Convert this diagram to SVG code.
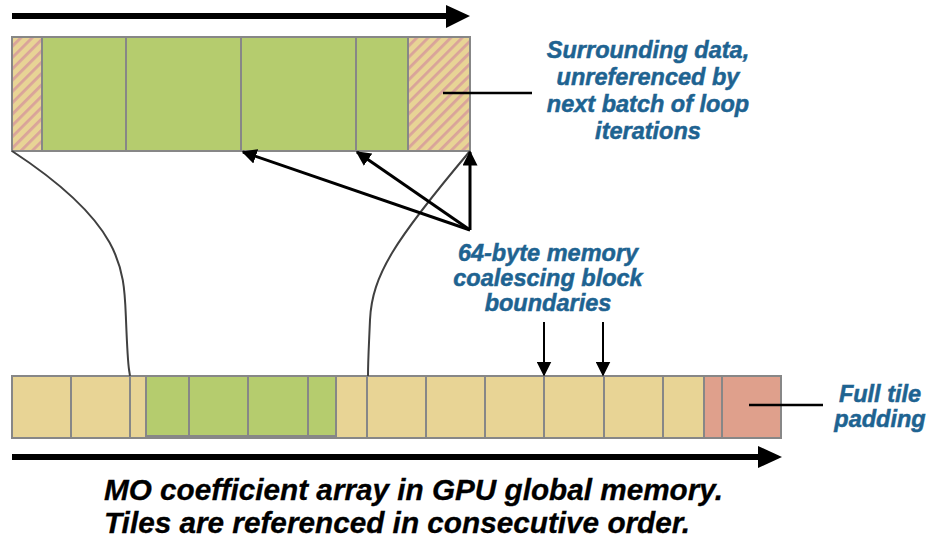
<svg xmlns="http://www.w3.org/2000/svg" width="928" height="542" viewBox="0 0 928 542">
<defs>
<pattern id="hatch" patternUnits="userSpaceOnUse" width="8" height="8" patternTransform="rotate(45)">
<rect width="8" height="8" fill="#e8d495"/>
<rect x="0" y="0" width="2.8" height="8" fill="#d9a39a"/>
</pattern>
<marker id="ah" viewBox="0 0 10 10" refX="9" refY="5" markerWidth="5" markerHeight="5" orient="auto" markerUnits="strokeWidth">
<path d="M0,0 L10,5 L0,10 Z" fill="#000"/>
</marker>
<marker id="ahs" viewBox="0 0 10 10" refX="9" refY="5" markerWidth="7.5" markerHeight="7.5" orient="auto" markerUnits="strokeWidth">
<path d="M0,0 L10,5 L0,10 Z" fill="#000"/>
</marker>
</defs>
<style>
.cell{stroke:#878787;stroke-width:2}
.tan{fill:#e8d495}
.grn{fill:#b5cc6e}
.pnk{fill:#dfa08c}
.hat{fill:url(#hatch)}
.lbl{font-family:"Liberation Sans",Arial,sans-serif;font-weight:bold;font-style:italic;font-size:23.5px;fill:#1e6391;stroke:#1e6391;stroke-width:0.5;text-anchor:middle}
.cap{font-family:"Liberation Sans Narrow","Liberation Sans",Arial,sans-serif;font-weight:bold;font-style:italic;font-size:29px;fill:#000;stroke:#000;stroke-width:0.3}
.lead{stroke:#000;stroke-width:2.5;fill:none}
.curve{stroke:#404040;stroke-width:2;fill:none}
.ptr{stroke:#000;stroke-width:3;fill:none;marker-end:url(#ah)}
.big{stroke:#000;stroke-width:6;fill:none}
</style>

<g id="top-arrow">
<line class="big" x1="12" y1="16" x2="448" y2="16"/>
<polygon points="446,5 470,16 446,28" fill="#000"/>
</g>

<g id="top-bar">
<rect class="cell hat" x="12" y="37" width="30" height="114"/>
<rect class="cell grn" x="42" y="37" width="84" height="114"/>
<rect class="cell grn" x="126" y="37" width="115" height="114"/>
<rect class="cell grn" x="241" y="37" width="115" height="114"/>
<rect class="cell grn" x="356" y="37" width="52" height="114"/>
<rect class="cell hat" x="408" y="37" width="62" height="114"/>
</g>

<g id="label-surrounding">
<text class="lbl" x="648" y="58">Surrounding data,</text>
<text class="lbl" x="648" y="85">unreferenced by</text>
<text class="lbl" x="648" y="112">next batch of loop</text>
<text class="lbl" x="648" y="139">iterations</text>
</g>

<g id="label-coalescing">
<text class="lbl" x="548" y="261">64-byte memory</text>
<text class="lbl" x="548" y="286">coalescing block</text>
<text class="lbl" x="548" y="311">boundaries</text>
</g>

<g id="bottom-bar">
<rect class="cell tan" x="12" y="376" width="59" height="62"/>
<rect class="cell tan" x="71" y="376" width="59" height="62"/>
<rect class="cell tan" x="130" y="376" width="16" height="62"/>
<rect class="cell tan" x="146" y="376" width="190" height="62"/>
<rect class="cell grn" x="146" y="376" width="43" height="60"/>
<rect class="cell grn" x="189" y="376" width="59" height="60"/>
<rect class="cell grn" x="248" y="376" width="60" height="60"/>
<rect class="cell grn" x="308" y="376" width="28" height="60"/>
<rect class="cell tan" x="336" y="376" width="31" height="62"/>
<rect class="cell tan" x="367" y="376" width="59" height="62"/>
<rect class="cell tan" x="426" y="376" width="59" height="62"/>
<rect class="cell tan" x="485" y="376" width="59" height="62"/>
<rect class="cell tan" x="544" y="376" width="60" height="62"/>
<rect class="cell tan" x="604" y="376" width="59" height="62"/>
<rect class="cell tan" x="663" y="376" width="41" height="62"/>
<rect class="cell pnk" x="704" y="376" width="18" height="62"/>
<rect class="cell pnk" x="722" y="376" width="59" height="62"/>
</g>

<g id="label-padding">
<text class="lbl" x="880" y="402">Full tile</text>
<text class="lbl" x="880" y="427">padding</text>
</g>

<g id="bottom-arrow">
<line class="big" x1="12" y1="457" x2="760" y2="457"/>
<polygon points="758,446 782,457 758,468" fill="#000"/>
</g>

<g id="caption">
<text class="cap" x="104" y="500" textLength="619" lengthAdjust="spacingAndGlyphs">MO coefficient array in GPU global memory.</text>
<text class="cap" x="104" y="533" textLength="586" lengthAdjust="spacingAndGlyphs">Tiles are referenced in consecutive order.</text>
</g>

<g id="connectors">
<path class="curve" d="M12,151 C125,225 124,270 126,320 S128,362 130,376"/>
<path class="curve" d="M470,151 C395,240 372,275 370,320 S368,362 368,376"/>
<line class="ptr" x1="470" y1="230" x2="243" y2="152"/>
<line class="ptr" x1="470" y1="230" x2="357" y2="152"/>
<line class="ptr" x1="470" y1="230" x2="470" y2="152"/>
<line class="lead" x1="443" y1="93" x2="532" y2="93"/>
<line class="lead" x1="749" y1="405" x2="823" y2="405"/>
<line x1="544" y1="322" x2="544" y2="375" stroke="#000" stroke-width="2" marker-end="url(#ahs)"/>
<line x1="603" y1="322" x2="603" y2="375" stroke="#000" stroke-width="2" marker-end="url(#ahs)"/>
</g>
</svg>
